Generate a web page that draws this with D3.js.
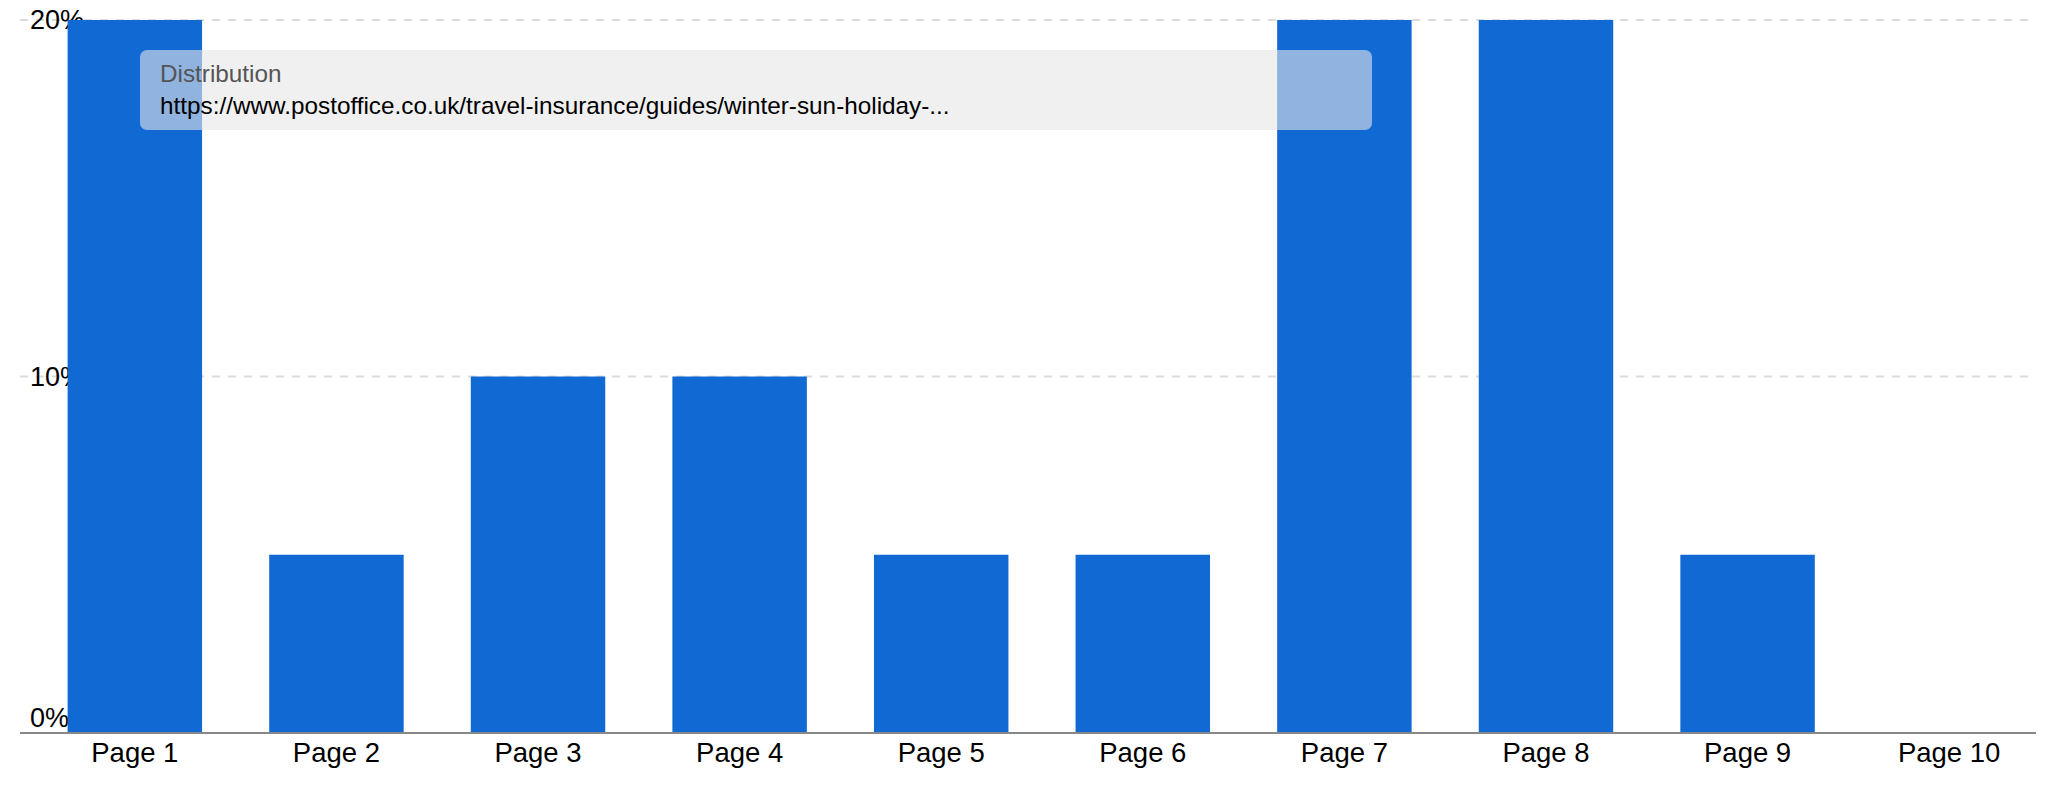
<!DOCTYPE html>
<html>
  <head>
    <style>
      body,
      html {
        margin: 0;
        padding: 0;
        background: #fff;
        overflow: hidden;
      }
      * {
        font-family: "Liberation Sans", Arial, sans-serif;
      }
    </style>
    <script src="https://d3js.org/d3.v7.min.js"></script>
    <title>distribution</title>
  </head>

  <body>
    <svg id="chart"></svg>

    <script>
      // data
      var pages = ["Page 1", "Page 2", "Page 3", "Page 4", "Page 5",
                   "Page 6", "Page 7", "Page 8", "Page 9", "Page 10"];
      var shares = [20, 5, 10, 10, 5, 5, 20, 20, 5, 0];
      var yTicks = [0, 10, 20];
      var tipTitle = "Distribution";
      var tipUrl = "https://www.postoffice.co.uk/travel-insurance/guides/winter-sun-holiday-...";

      var width = 2056;
      var height = 800;

      var canvas = d3.select("#chart")
        .attr("width", width)
        .attr("height", height);

      var xScale = d3.scaleBand()
        .domain(pages)
        .range([34, 2050])
        .paddingInner(0.333)
        .paddingOuter(0.1667);

      var yScale = d3.scaleLinear()
        .domain([0, 20])
        .range([733, 20]);

      // dashed gridlines (not at zero)
      canvas.append("g")
        .selectAll("line")
        .data(yTicks.filter(function (d) { return d > 0; }))
        .enter()
        .append("line")
        .attr("x1", 20)
        .attr("x2", 2034)
        .attr("y1", function (d) { return yScale(d); })
        .attr("y2", function (d) { return yScale(d); })
        .style("stroke", "#dcdcdc")
        .style("stroke-width", "2px")
        .style("stroke-dasharray", "8 8");

      // y labels, drawn under the bars
      canvas.append("g")
        .selectAll("text")
        .data(yTicks)
        .enter()
        .append("text")
        .attr("x", 30)
        .attr("y", function (d) { return d === 0 ? yScale(d) - 6 : yScale(d) + 9; })
        .style("font-size", "27px")
        .style("fill", "#000")
        .text(function (d) { return d + "%"; });

      canvas.append("g")
        .selectAll("rect")
        .data(shares)
        .enter()
        .append("rect")
        .attr("x", function (d, i) { return xScale(pages[i]); })
        .attr("y", function (d) { return yScale(d); })
        .attr("width", xScale.bandwidth())
        .attr("height", function (d) { return yScale(0) - yScale(d); })
        .style("fill", "#1169d4");

      // baseline
      canvas.append("line")
        .attr("x1", 20)
        .attr("x2", 2036)
        .attr("y1", yScale(0))
        .attr("y2", yScale(0))
        .style("stroke", "#888")
        .style("stroke-width", "2px");

      var xAxis = d3.axisBottom(xScale).tickSize(0).tickPadding(0);
      var ax = canvas.append("g")
        .attr("transform", "translate(0," + yScale(0) + ")")
        .call(xAxis);
      ax.select(".domain").remove();
      ax.selectAll("text")
        .attr("dy", null)
        .attr("y", 29)
        .style("font-size", "27.5px")
        .style("font-family", "'Liberation Sans', Arial, sans-serif")
        .style("fill", "#000");

      // hover tooltip as it appears in the capture
      var tip = canvas.append("g");
      tip.append("rect")
        .attr("x", 140)
        .attr("y", 50)
        .attr("width", 1232)
        .attr("height", 80)
        .attr("rx", 7)
        .style("fill", "rgb(230,230,230)")
        .style("fill-opacity", 0.6);
      tip.append("text")
        .attr("x", 160)
        .attr("y", 82)
        .style("font-size", "24.3px")
        .style("fill", "#555")
        .text(tipTitle);
      tip.append("text")
        .attr("x", 160)
        .attr("y", 114)
        .style("font-size", "24.3px")
        .style("fill", "#000")
        .text(tipUrl);
    </script>
  </body>
</html>
